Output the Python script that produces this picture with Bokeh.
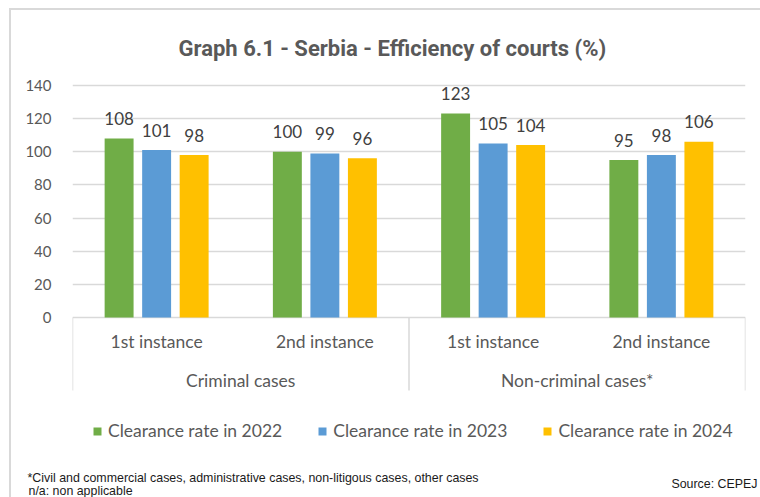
from bokeh.plotting import figure
from bokeh.layouts import column, row
from bokeh.models import FactorRange, ColumnDataSource, Label, Legend, LegendItem, FixedTicker, Spacer
from bokeh.transform import dodge
from bokeh.core.properties import value
from bokeh.embed import file_html
from bokeh.resources import INLINE

# ---- data ----
groups = ["Criminal cases", "Non-criminal cases*"]
instances = ["1st instance", "2nd instance"]
series = ["Clearance rate in 2022", "Clearance rate in 2023", "Clearance rate in 2024"]
rate_2022 = [108, 100, 123, 95]
rate_2023 = [101, 99, 105, 98]
rate_2024 = [98, 96, 104, 106]
y_ticks = [0, 20, 40, 60, 80, 100, 120, 140]
title_text = "Graph 6.1 - Serbia - Efficiency of courts (%)"
footnote_1 = "*Civil and commercial cases, administrative cases, non-litigous cases, other cases"
footnote_2 = "n/a: non applicable"
source_note = "Source: CEPEJ"

# ---- styles ----
colors = ["#70AD47", "#5B9BD5", "#FFC000"]
offsets = [-0.223, 0.0, 0.223]
bar_w = 0.172
grid_c = "#D9D9D9"
txt_c = "#595959"
lab_c = "#404040"
FONT = value("Lato")
Y_TOP, Y_BOTTOM, CAT_BOTTOM = 146.0, -86.3, -44.0

factors = [(g, i) for g in groups for i in instances]
x_range = FactorRange(*factors, range_padding=0, factor_padding=0, group_padding=0)

p = figure(width=749, height=450, x_range=x_range, y_range=(Y_BOTTOM, Y_TOP),
           output_backend="svg", toolbar_location=None, x_axis_location=None,
           min_border_left=61, min_border_right=15, min_border_top=65, min_border_bottom=0)
p.frame_align = False
p.outline_line_color = None
p.xgrid.visible = False
p.yaxis.ticker = FixedTicker(ticks=y_ticks)
p.yaxis.axis_line_color = None
p.yaxis.major_tick_line_color = None
p.yaxis.minor_tick_line_color = None
p.yaxis.major_label_standoff = 15
p.yaxis.major_label_text_font = "Lato"
p.yaxis.major_label_text_font_size = "15px"
p.yaxis.major_label_text_color = txt_c
p.ygrid.grid_line_color = grid_c
p.ygrid.grid_line_width = 1.5

p.title.text = title_text
p.title.align = "left"
p.title.offset = 106
p.title.standoff = 30
p.title.text_font = "Roboto"
p.title.text_font_style = "bold"
p.title.text_font_size = "22px"
p.title.text_color = txt_c

src = ColumnDataSource(dict(x=factors, r0=rate_2022, r1=rate_2023, r2=rate_2024,
                            t0=[str(v) for v in rate_2022],
                            t1=[str(v) for v in rate_2023],
                            t2=[str(v) for v in rate_2024]))

items = []
for k in range(3):
    r = p.vbar(x=dodge("x", offsets[k], range=x_range), top="r%d" % k, width=bar_w,
               fill_color=colors[k], line_color=None, source=src)
    items.append(LegendItem(label=series[k], renderers=[r]))
    p.text(x=dodge("x", offsets[k], range=x_range), y="r%d" % k, text="t%d" % k, source=src,
           text_align="center", text_baseline="alphabetic", y_offset=-20,
           text_font=FONT, text_font_size="17px", text_color=lab_c)

# two-level category axis drawn inside the frame below zero
n_inst = len(instances)
bounds = [i * n_inst for i in range(len(groups) + 1)]
p.segment(x0=bounds, y0=[0] * len(bounds), x1=bounds, y1=[CAT_BOTTOM] * len(bounds),
          line_color=grid_c, line_width=1.5)
p.text(x=factors, y=[-14.5] * len(factors), text=[f[1] for f in factors],
       text_align="center", text_baseline="middle",
       text_font=FONT, text_font_size="17.5px", text_color=txt_c)
grp_x = [(g, instances[0]) for g in groups]
p.text(x=dodge("x", 0.5, range=x_range), y="y", text="t",
       source=ColumnDataSource(dict(x=grp_x, y=[-38] * len(groups), t=groups)),
       text_align="center", text_baseline="middle",
       text_font=FONT, text_font_size="17.5px", text_color=txt_c)

legend = Legend(items=items, orientation="horizontal", location=(20, 19),
                padding=5, spacing=35, label_standoff=6,
                glyph_width=10, glyph_height=10,
                label_text_font="Lato", label_text_font_size="17.5px", label_text_color=txt_c,
                border_line_color=None, background_fill_alpha=0)
p.add_layout(legend)

# footer with the notes
f = figure(width=749, height=37, x_range=(0, 749), y_range=(0, 37),
           output_backend="svg", toolbar_location=None,
           x_axis_location=None, y_axis_location=None, min_border=0)
f.frame_align = False
f.outline_line_color = None
f.grid.visible = False
NOTE_FONT = "Liberation Sans"
for txt, xx, yy, al in [(footnote_1, 16, 20, "left"), (footnote_2, 17, 7, "left"),
                        (source_note, 746, 14, "right")]:
    f.add_layout(Label(x=xx, y=yy, x_units="screen", y_units="screen", text=txt,
                       text_align=al, text_baseline="middle",
                       text_font=NOTE_FONT, text_font_size="12.4px", text_color="#1A1A1A"))

# light grey frame lines (left and top) around the chart, as in the source document
BG = {"background-color": "#D9D9D9"}
inner = column(p, f, spacing=0)
framed = column(Spacer(width=751, height=2, styles=BG),
                row(Spacer(width=2, height=487, styles=BG), inner, spacing=0),
                spacing=0)
layout = column(Spacer(width=760, height=8),
                row(Spacer(width=9, height=489), framed, spacing=0),
                spacing=0)
open("out.html", "w").write(file_html(layout, INLINE))
